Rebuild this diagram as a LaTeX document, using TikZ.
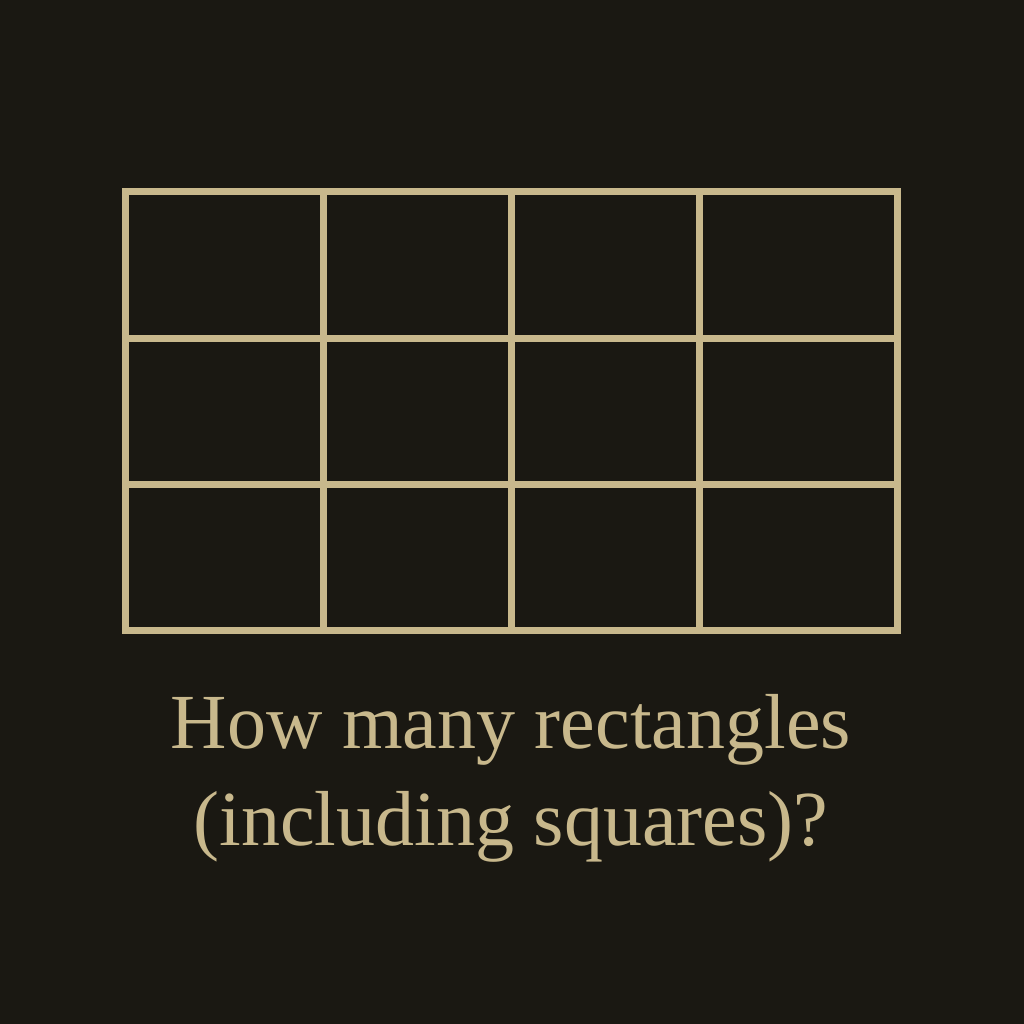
\documentclass[tikz,border=0pt]{standalone}
\usepackage{fontspec}
\setmainfont{Liberation Serif}
\definecolor{bg}{HTML}{1A1812}
\definecolor{chalk}{HTML}{C8B88C}
\begin{document}
\begin{tikzpicture}[x=1pt,y=-1pt,
  gridline/.style={draw=chalk,line width=7pt,line cap=rect},
  title/.style={text=chalk,font=\fontsize{78}{78}\selectfont,anchor=base,inner sep=0pt}]
\fill[bg] (0,0) rectangle (1024,1024);
\useasboundingbox (0,0) rectangle (1024,1024);
\coordinate (tl) at (125,192);
\coordinate (br) at (897,630);
\foreach \x in {323,511,699} \draw[gridline] (\x,192) -- (\x,630);
\foreach \y in {338,484} \draw[gridline] (125,\y) -- (897,\y);
\draw[gridline,line join=miter] (tl) rectangle (br);
\node[title] (l1) at (511,748) {How many rectangles};
\node[title] (l2) at (511,845) {(including squares)?};
\end{tikzpicture}
\end{document}
